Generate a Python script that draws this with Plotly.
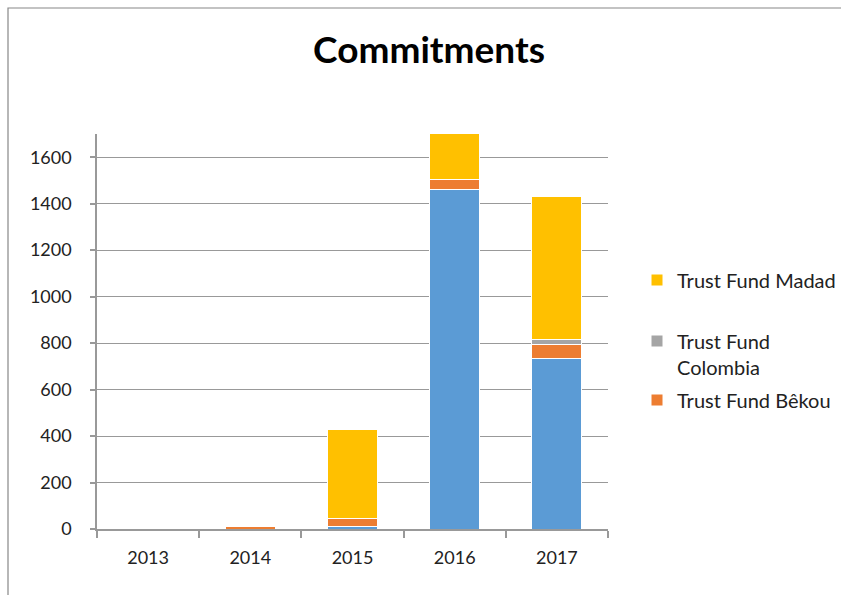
import plotly.graph_objects as go

years = ["2013", "2014", "2015", "2016", "2017"]
africa = [0, 0, 10, 1460, 735]
bekou = [0, 12, 35, 45, 57]
colombia = [0, 0, 0, 0, 22]
madad = [0, 0, 385, 205, 617]

y_ticks = [0, 200, 400, 600, 800, 1000, 1200, 1400, 1600]

FONT = "Lato, 'Open Sans', sans-serif"
fig = go.Figure()
common = dict(marker_line_color="white", marker_line_width=1, width=0.49)
fig.add_trace(go.Bar(x=years, y=africa, name="Trust Fund Africa", marker_color="#5B9BD5",
                     showlegend=False, **common))
fig.add_trace(go.Bar(x=years, y=bekou, name="Trust Fund Bêkou", marker_color="#ED7D31",
                     legend="legend3", **common))
fig.add_trace(go.Bar(x=years, y=colombia, name="Trust Fund<br>Colombia", marker_color="#A5A5A5",
                     legend="legend2", **common))
fig.add_trace(go.Bar(x=years, y=madad, name="Trust Fund Madad", marker_color="#FFC000",
                     legend="legend", **common))

L, R, T, B = 97, 233, 134, 66
W, H = 841 - L - R, 595 - T - B

def px_x(p):
    return (p - L) / W

def px_y(p):
    return (595 - B - p) / H

leg = dict(font=dict(family=FONT, size=20, color="#222"), bgcolor="rgba(0,0,0,0)",
           xanchor="left", yanchor="middle", valign="top", itemwidth=30)
fig.update_layout(
    width=841, height=595,
    margin=dict(l=L, r=R, t=T, b=B, autoexpand=False),
    barmode="stack",
    paper_bgcolor="white", plot_bgcolor="white",
    font=dict(family=FONT, size=18, color="#222"),
    title=dict(text="<b>Commitments</b>", xref="container", x=429 / 841, xanchor="center",
               yref="container", y=1 - 50 / 595, yanchor="middle",
               font=dict(family=FONT, size=37, color="black")),
    legend=dict(x=px_x(637), y=px_y(280), **leg),
    legend2=dict(x=px_x(637), y=px_y(354), **leg),
    legend3=dict(x=px_x(637), y=px_y(400), **leg),
    xaxis=dict(type="category", showline=True, linecolor="#999", linewidth=1.5,
               ticks="outside", tickson="boundaries", ticklen=7, tickcolor="#999",
               tickwidth=1.5, showgrid=False, tickfont=dict(size=18, color="#222"),
               ticklabelstandoff=12),
    yaxis=dict(range=[0, 1700], tickvals=y_ticks, showline=True, linecolor="#999",
               linewidth=1.5, ticks="outside", ticklen=5, tickcolor="#999", tickwidth=1.5,
               showgrid=True, gridcolor="#999", gridwidth=1.4, zeroline=False,
               tickfont=dict(size=18, color="#222"), ticklabelstandoff=15),
    shapes=[dict(type="rect", xref="paper", yref="paper", x0=px_x(8), x1=px_x(900),
                 y0=px_y(700), y1=px_y(8), line=dict(color="#888", width=1.2),
                 fillcolor="rgba(0,0,0,0)", layer="below")],
)
fig.write_html("out.html", config={"displayModeBar": False},
               post_script="document.body.style.margin='0';")
